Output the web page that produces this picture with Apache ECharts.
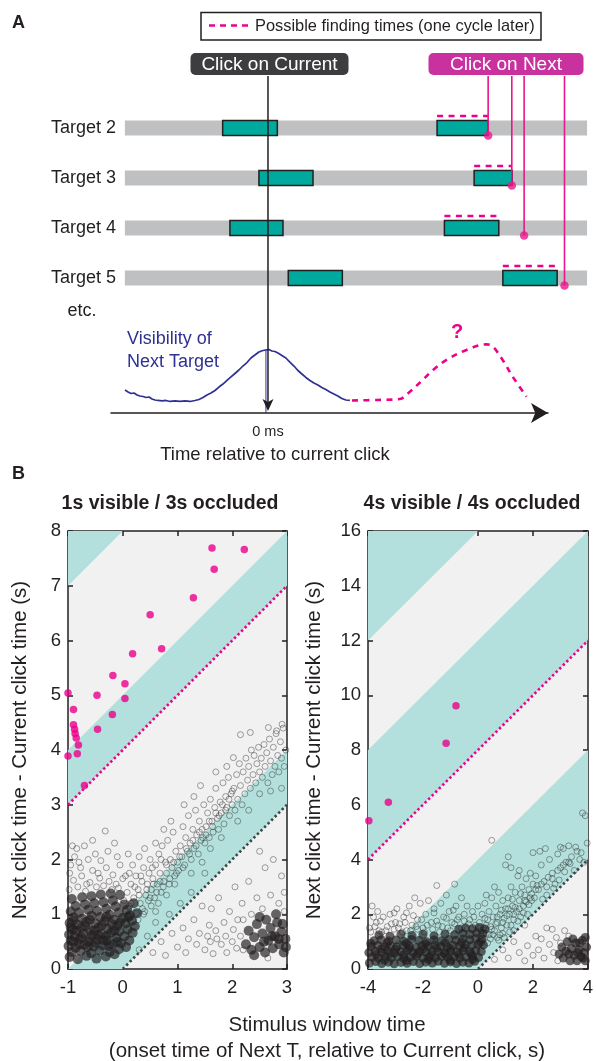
<!DOCTYPE html>
<html>
<head>
<meta charset="utf-8">
<title>Visibility of the next target and click timing</title>
<script src="https://cdn.jsdelivr.net/npm/echarts@6/dist/echarts.min.js"></script>
<style>
  html, body { margin: 0; padding: 0; background: #ffffff; }
  #chart { width: 596px; height: 1061px; }
</style>
</head>
<body>
<div id="chart"></div>
<script>
// ---------------- Panel A: one search cycle (time in ms, 0 = current click) ----------------
const targetRows = [2, 3, 4, 5];
const trackExtent = [-1440, 3210];
const windowsNow = [[-456, 94], [-91, 453], [-383, 151], [204, 748]];
const windowsNext = [[1701, 2215], [2074, 2456], [1775, 2322], [2363, 2909]];
const nextClickTimes = [2215, 2453, 2577, 2983];

const visibilityTime = [-1439, -1408, -1378, -1348, -1318, -1288, -1258, -1227, -1197, -1167, -1137, -1107, -1066, -1026, -986, -936, -885, -835, -785, -734, -694, -654, -614, -573, -533, -493, -453, -412, -372, -332, -292, -252, -211, -171, -131, -91, -50, -20, 10, 40, 70, 101, 141, 181, 221, 262, 302, 342, 382, 423, 463, 503, 543, 583, 624, 664, 704, 744, 785, 825];
const visibilityLevel = [0.277, 0.253, 0.235, 0.241, 0.217, 0.205, 0.199, 0.187, 0.193, 0.169, 0.157, 0.151, 0.145, 0.151, 0.139, 0.145, 0.139, 0.145, 0.139, 0.151, 0.163, 0.187, 0.217, 0.241, 0.271, 0.313, 0.349, 0.392, 0.434, 0.476, 0.518, 0.566, 0.608, 0.663, 0.699, 0.735, 0.753, 0.759, 0.765, 0.747, 0.741, 0.723, 0.693, 0.663, 0.614, 0.566, 0.512, 0.470, 0.428, 0.392, 0.361, 0.337, 0.307, 0.283, 0.253, 0.229, 0.205, 0.175, 0.157, 0.151];
const projectedTime = [846, 1100, 1328, 1429, 1560, 1663, 1798, 1999, 2200, 2264, 2364, 2465, 2603];
const projectedLevel = [0.151, 0.157, 0.169, 0.257, 0.40, 0.518, 0.639, 0.759, 0.827, 0.80, 0.639, 0.437, 0.196];

// ---------------- Panel B: next click vs stimulus window ----------------
const fastXRange = [-1, 3];
const fastYRange = [0, 8];
const slowXRange = [-4, 4];
const slowYRange = [0, 16];
// offsets (y - x) during which the next target is visible
const fastBands = [[0, 1], [4, 5], [8, 9]];
const slowBands = [[0, 4], [8, 12], [16, 20]];
const fastSameCycle = [[0, 0], [3, 3]];
const fastNextCycle = [[-1, 3], [3, 7]];
const slowSameCycle = [[0, 0], [4, 4]];
const slowNextCycle = [[-4, 4], [4, 12]];

const fastFound = [[1.63, 7.69], [2.22, 7.66], [1.67, 7.30], [1.29, 6.78], [0.50, 6.47], [0.71, 5.85], [0.18, 5.76], [-0.18, 5.36], [0.04, 5.21], [-0.47, 5.00], [0.04, 4.94], [-0.19, 4.65], [-0.46, 4.38], [-1.0, 5.04], [-0.9, 4.74], [-0.9, 4.46], [-0.88, 4.38], [-0.87, 4.30], [-0.85, 4.22], [-0.81, 4.09], [-0.83, 3.93], [-1.0, 3.89], [-0.70, 3.35]];
const slowFound = [[-0.8, 9.62], [-1.16, 8.25], [-3.26, 6.09], [-3.97, 5.42]];

const fastCore = [[-0.97,0.22],[-0.82,0.18],[-0.66,0.24],[-0.48,0.19],[-0.31,0.23],[-0.15,0.27],
[-0.93,0.31],[-0.77,0.33],[-0.58,0.29],[-0.42,0.34],[-0.24,0.31],[-0.07,0.36],[0.06,0.4],
[-0.99,0.42],[-0.86,0.39],[-0.7,0.44],[-0.53,0.41],[-0.36,0.43],[-0.19,0.45],[-0.03,0.47],[0.12,0.52],
[-0.95,0.52],[-0.79,0.55],[-0.63,0.5],[-0.46,0.54],[-0.29,0.52],[-0.12,0.57],[0.03,0.6],[0.18,0.66],
[-0.98,0.63],[-0.88,0.6],[-0.72,0.65],[-0.56,0.62],[-0.39,0.64],[-0.22,0.66],[-0.06,0.69],[0.09,0.72],[0.22,0.78],
[-0.92,0.72],[-0.76,0.75],[-0.6,0.71],[-0.44,0.76],[-0.27,0.74],[-0.1,0.79],[0.05,0.83],[0.17,0.88],
[-0.97,0.84],[-0.83,0.81],[-0.67,0.86],[-0.5,0.83],[-0.33,0.87],[-0.16,0.9],[0.0,0.93],[0.13,0.98],[0.26,1.02],
[-0.9,0.94],[-0.74,0.92],[-0.57,0.97],[-0.41,0.95],[-0.24,0.99],[-0.07,1.03],[0.08,1.08],
[-0.95,1.05],[-0.8,1.03],[-0.63,1.08],[-0.47,1.06],[-0.3,1.1],[-0.13,1.14],[0.03,1.18],[0.2,1.2],
[-0.86,1.15],[-0.69,1.18],[-0.52,1.2],[-0.35,1.22],[-0.18,1.25],
[-0.93,1.28],[-0.74,1.31],[-0.57,1.33],[-0.4,1.36],[-0.22,1.38],[-0.05,1.35],
[-0.9,0.5],[-0.75,0.58],[-0.6,0.55],[-0.45,0.62],[-0.3,0.6],[-0.15,0.7],[-0.85,0.7],[-0.68,0.78],[-0.52,0.7],[-0.38,0.8],[-0.2,0.82],[-0.95,0.76],[-0.8,0.45],[-0.64,0.4],[-0.5,0.48],[-0.35,0.52],[-0.25,0.42],[-0.1,0.5],[-0.9,0.88],[-0.6,0.9],[-0.3,0.95],[-0.05,0.85],[0.1,0.95],
[2.25,0.45],[2.3,0.7],[2.35,0.35],[2.4,0.58],[2.45,0.82],[2.5,0.4],[2.55,0.65],[2.6,0.3],[2.62,0.9],[2.66,0.52],[2.7,0.75],[2.74,0.38],[2.78,0.6],[2.82,0.85],[2.86,0.45],[2.9,0.68],[2.94,0.3],[2.97,0.55],[2.58,0.5],[2.72,0.6],[2.85,0.55],[2.92,0.82],[2.5,0.95],[2.8,1.0],[2.4,0.25],[2.98,0.4]];

const fastCloud = [[-0.98,1.45],[-0.9,1.62],[-0.82,1.5],[-0.75,1.7],[-0.68,1.42],[-0.6,1.58],[-0.55,1.8],[-0.48,1.5],[-0.42,1.66],[-0.35,1.52],[-0.3,1.85],[-0.25,1.6],[-0.18,1.72],[-0.12,1.55],[-0.05,1.9],[0.0,1.65],[-0.95,1.9],[-0.88,2.05],[-0.8,1.95],[-0.7,2.25],[-0.63,2.0],[-0.5,2.1],[-0.4,1.98],[-0.27,2.15],[-0.15,2.3],[-0.92,2.25],[-0.84,2.2],[-0.55,2.35],[-0.32,2.52],[-0.1,2.05],[-0.97,1.75],[-0.77,1.85],[-0.66,1.55],[-0.45,1.75],[-0.2,1.45],[-0.08,1.48],
[0.02,1.25],[0.08,1.4],[0.12,1.15],[0.15,1.55],[0.2,1.3],[0.24,1.7],[0.28,1.45],[0.32,1.2],[0.35,1.6],[0.38,1.85],[0.42,1.35],[0.45,1.55],[0.48,1.75],[0.5,2.0],[0.05,1.7],[0.18,1.9],[0.3,2.05],[0.4,2.2],[0.1,2.1],[0.25,1.02],[0.4,1.05],[0.47,1.25],
[0.05,1.05],[0.15,1.2],[0.22,1.5],[0.3,1.35],[0.36,1.1],[0.44,1.45],[0.5,1.3],[0.56,1.55],[0.62,1.4],[0.68,1.6],[0.74,1.5],[0.8,1.9],[0.86,1.65],[0.93,1.95],[0.98,1.75],[1.04,2.05],[1.1,1.85],[1.16,2.2],[1.22,2.1],[1.28,2.35],[1.34,2.25],[1.4,2.5],[1.46,2.4],[1.52,2.45],[1.58,2.7],[1.64,2.6],[1.7,2.85],[1.76,2.8],[1.82,3.0],[1.88,2.9],[1.94,3.1],[2.0,3.25],[0.12,1.75],[0.33,1.7],[0.54,1.85],[0.7,2.0],[0.28,0.9],[0.38,1.0],[0.52,1.15],[0.6,1.05],
[0.52,1.45],[0.55,1.65],[0.58,1.3],[0.6,1.9],[0.63,1.55],[0.66,2.1],[0.68,1.75],[0.7,1.4],[0.72,2.25],[0.75,1.6],[0.78,1.95],[0.8,1.75],[0.82,2.35],[0.85,1.55],[0.87,2.0],[0.9,1.85],[0.92,2.5],[0.95,1.7],[0.97,2.15],[1.0,1.95],[0.6,2.3],[0.75,2.55],[0.88,2.7],[0.65,1.2],[0.8,1.35],
[1.02,1.8],[1.05,2.25],[1.08,2.05],[1.1,2.6],[1.13,1.9],[1.15,2.4],[1.18,2.15],[1.2,2.8],[1.23,2.3],[1.25,2.0],[1.28,2.55],[1.3,2.2],[1.33,2.9],[1.35,2.45],[1.38,2.1],[1.4,2.7],[1.43,2.35],[1.45,2.55],[1.48,3.0],[1.5,2.3],[1.12,3.0],[1.3,3.15],[1.42,3.35],[1.25,1.75],[1.45,1.95],
[1.52,2.6],[1.55,2.85],[1.58,2.4],[1.6,3.1],[1.63,2.7],[1.65,2.5],[1.68,2.95],[1.7,3.3],[1.73,2.75],[1.75,2.55],[1.78,3.05],[1.8,2.85],[1.83,3.4],[1.85,2.65],[1.88,3.15],[1.9,2.95],[1.93,3.5],[1.95,2.8],[1.98,3.2],[2.0,3.0],[1.6,2.2],[1.8,2.4],[1.7,3.6],[1.9,3.7],
[2.03,3.3],[2.05,2.9],[2.08,3.55],[2.1,3.1],[2.13,3.75],[2.15,3.35],[2.18,3.0],[2.2,3.6],[2.23,3.2],[2.25,3.85],[2.28,3.45],[2.3,3.7],[2.33,3.3],[2.35,4.0],[2.38,3.55],[2.4,3.9],[2.43,3.4],[2.45,3.75],[2.48,4.05],[2.5,3.6],[2.1,2.7],[2.3,2.9],[2.15,4.28],[2.33,4.32],[2.02,3.86],
[2.53,3.85],[2.55,3.5],[2.58,4.1],[2.6,3.7],[2.63,3.95],[2.65,3.4],[2.68,4.2],[2.7,3.8],[2.73,3.55],[2.75,4.05],[2.78,3.7],[2.8,4.3],[2.83,3.9],[2.85,3.6],[2.88,4.15],[2.9,3.85],[2.93,4.4],[2.95,3.7],[2.98,4.0],[2.66,4.41],[2.81,4.35],[2.91,4.47],[2.9,3.3],[2.7,3.25],[2.5,3.2],
[0.3,0.35],[0.45,0.6],[0.55,0.3],[0.6,0.85],[0.7,0.5],[0.78,0.25],[0.85,1.0],[0.9,0.65],[1.0,0.4],[1.05,1.2],[1.1,0.75],[1.15,0.3],[1.2,0.55],[1.25,1.4],[1.3,0.9],[1.35,0.45],[1.4,0.65],[1.45,1.15],[1.5,0.35],[1.55,0.6],[1.58,0.8],[1.6,0.5],[1.62,1.1],[1.65,0.28],[1.7,0.7],[1.72,0.55],[1.75,1.3],[1.8,0.45],[1.85,0.85],[1.88,0.6],[1.9,0.3],[1.95,1.05],[2.0,0.5],[2.02,0.72],[2.05,1.5],[2.08,0.38],[2.1,0.9],[2.15,0.6],[2.18,1.2],[0.95,1.55],[1.5,1.75],[2.3,1.6],[2.5,2.15],[2.6,1.85],[2.75,2.0],[2.9,1.7],[2.95,1.4],[2.85,1.2],[2.7,1.35],[2.45,1.3],[2.2,0.35],[2.35,1.0],[2.55,1.1],[2.65,0.2],[2.95,1.05],[2.2,0.9]];

const slowCore = [[-3.95,0.22],[-3.72,0.27],[-3.5,0.2],[-3.26,0.25],[-3.05,0.19],[-2.8,0.24],[-2.58,0.21],[-2.35,0.27],[-2.12,0.2],[-1.9,0.25],[-1.66,0.22],[-1.45,0.28],[-1.22,0.21],[-1.0,0.26],[-0.78,0.2],[-0.55,0.25],[-0.33,0.22],[-0.12,0.28],
[-3.85,0.44],[-3.62,0.4],[-3.38,0.46],[-3.15,0.41],[-2.92,0.45],[-2.7,0.39],[-2.46,0.43],[-2.24,0.47],[-2.0,0.4],[-1.78,0.44],[-1.55,0.41],[-1.33,0.46],[-1.1,0.42],[-0.88,0.45],[-0.66,0.4],[-0.43,0.44],[-0.2,0.47],[0.02,0.42],
[-3.97,0.6],[-3.74,0.65],[-3.5,0.61],[-3.28,0.66],[-3.04,0.59],[-2.82,0.63],[-2.58,0.67],[-2.36,0.6],[-2.12,0.64],[-1.9,0.61],[-1.67,0.66],[-1.44,0.62],[-1.22,0.6],[-0.99,0.65],[-0.76,0.62],[-0.54,0.67],[-0.3,0.63],[-0.08,0.68],[0.12,0.64],
[-3.88,0.82],[-3.64,0.86],[-3.4,0.8],[-3.18,0.85],[-2.95,0.81],[-2.72,0.87],[-2.5,0.83],[-2.26,0.79],[-2.04,0.85],[-1.8,0.82],[-1.58,0.88],[-1.35,0.83],[-1.12,0.8],[-0.9,0.86],[-0.68,0.84],[-0.45,0.89],[-0.22,0.86],[0.0,0.9],[0.2,0.88],
[-3.78,1.03],[-3.52,1.07],[-3.25,1.02],[-2.98,1.06],[-2.7,1.01],[-2.42,1.08],[-2.15,1.04],[-1.88,1.0],[-1.6,1.06],[-1.33,1.03],[-1.06,1.08],[-0.8,1.05],[-0.55,1.1],[-0.3,1.07],[-0.08,1.12],[0.15,1.1],
[-3.6,1.24],[-3.2,1.2],[-2.8,1.27],[-2.4,1.22],[-2.0,1.26],[-1.6,1.21],[-1.2,1.28],[-0.85,1.25],[-0.55,1.3],[-0.3,1.27],[-0.05,1.32],[0.18,1.3],
[-0.7,1.45],[-0.45,1.5],[-0.2,1.47],[0.05,1.52],[0.25,1.46],
[-3.7,0.53],[-3.2,0.56],[-2.7,0.52],[-2.2,0.55],[-1.7,0.51],[-1.2,0.54],[-0.7,0.53],[-0.25,0.56],[-3.5,0.74],[-3.0,0.72],[-2.5,0.75],[-2.0,0.73],[-1.5,0.76],[-1.0,0.74],[-0.5,0.77],[-3.4,0.33],[-2.6,0.31],[-1.8,0.34],[-1.0,0.32],[-0.2,0.35],[-3.9,0.93],[-3.3,0.95],[-2.6,0.94],[-1.9,0.92],[-1.2,0.95],[-0.6,0.97],[0.08,0.98],
[2.95,0.55],[3.05,0.8],[3.1,0.4],[3.2,0.65],[3.25,1.0],[3.35,0.3],[3.4,0.75],[3.5,0.5],[3.55,0.95],[3.6,0.3],[3.68,0.7],[3.75,0.45],[3.8,1.05],[3.85,0.6],[3.9,0.3],[3.95,0.8],[3.45,1.1],[3.7,0.95],[3.3,0.55],[3.9,1.15],[3.62,0.6],[3.82,0.4]];

const slowCloud = [[-3.95,1.5],[-3.85,2.3],[-3.7,1.7],[-3.6,1.4],[-3.45,1.9],[-3.3,1.55],[-3.2,2.0],[-3.05,1.45],[-2.95,2.2],[-2.85,1.65],[-2.7,1.9],[-2.6,1.4],[-2.5,2.3],[-2.4,1.6],[-2.3,2.6],[-2.2,1.8],[-2.1,2.4],[-2.0,1.5],[-1.9,2.0],[-1.8,2.5],[-1.7,1.7],[-1.6,2.2],[-1.5,3.05],[-1.45,1.6],[-1.35,2.4],[-1.25,1.9],[-1.15,2.7],[-1.05,2.1],[-0.95,1.7],[-0.85,3.1],[-0.8,2.3],[-0.7,1.9],[-0.6,2.6],[-0.5,2.0],[-0.4,2.3],[-3.5,1.35],[-3.0,1.7],[-2.75,1.35],[-2.2,1.45],[-1.95,1.35],[-1.4,1.35],[-3.8,1.9],[-2.6,2.05],[-1.1,1.5],[-0.3,1.8],
[-3.9,1.35],[-3.75,1.55],[-3.55,1.75],[-3.35,1.4],[-3.15,1.65],[-2.9,1.5],[-2.65,1.7],[-2.45,1.4],[-2.25,1.55],[-2.05,1.8],[-1.85,1.6],[-1.65,1.45],[-1.5,1.75],[-1.3,1.55],[-1.15,1.85],[-1.0,1.4],[-0.85,1.65],[-0.6,1.5],[-0.35,1.65],[-0.15,1.9],[-3.65,2.1],[-3.05,2.05],[-2.35,1.95],[-1.6,2.05],[-0.9,2.15],
[-0.1,1.6],[0.1,1.4],[0.3,1.6],[0.5,1.45],[0.7,1.9],[0.9,1.7],[1.1,2.2],[1.3,2.0],[1.5,2.2],[1.7,2.5],[1.9,2.6],[2.1,2.9],[2.3,3.1],[2.5,3.0],[2.7,3.3],[2.9,3.6],[3.1,3.8],[3.3,3.9],[0.4,1.25],[0.8,1.25],[-0.2,2.1],[0.0,2.3],[-0.5,1.75],[-0.75,1.8],
[0.05,1.7],[0.1,1.2],[0.15,2.0],[0.2,1.5],[0.25,2.4],[0.3,1.3],[0.35,1.8],[0.4,2.1],[0.45,1.55],[0.5,2.6],[0.55,1.9],[0.6,1.4],[0.65,2.3],[0.7,1.7],[0.75,2.8],[0.8,2.0],[0.85,1.5],[0.9,2.5],[0.95,1.85],[1.0,2.2],[0.3,2.7],[0.6,3.0],[0.5,4.7],[0.45,1.1],[0.7,1.15],[0.9,1.3],
[1.05,1.6],[1.1,2.6],[1.15,2.0],[1.2,3.0],[1.25,2.3],[1.3,1.8],[1.35,2.8],[1.4,2.1],[1.45,3.4],[1.5,2.5],[1.55,1.9],[1.6,3.0],[1.65,2.3],[1.7,2.7],[1.75,3.3],[1.8,2.0],[1.85,2.9],[1.9,3.5],[1.95,2.5],[2.0,3.1],[1.1,4.1],[1.2,3.7],[1.5,3.6],[1.0,3.8],[1.3,1.4],[1.7,1.6],
[2.05,2.6],[2.1,3.4],[2.2,2.9],[2.3,3.8],[2.4,3.2],[2.5,2.7],[2.6,4.0],[2.7,3.5],[2.8,3.1],[2.9,4.2],[3.0,3.7],[3.1,4.4],[3.2,3.9],[3.3,4.5],[3.4,4.1],[3.5,3.6],[3.6,4.3],[3.7,4.0],[2.25,4.3],[2.45,4.4],[2.0,4.25],[3.8,5.7],[3.9,5.6],[3.97,4.6],[3.0,4.45],
[0.15,1.05],[0.35,0.95],[0.55,1.25],[0.75,1.05],[0.95,1.15],[1.15,1.35],[0.25,1.85],[0.65,1.65],[0.85,2.15],[1.05,1.95],[1.25,2.55],[1.45,1.75],[1.65,2.05],[1.85,2.35],[1.35,2.25],[1.55,2.75],[1.75,2.45],[1.95,2.75],[2.15,3.05],[2.35,2.55],[2.55,3.35],[2.75,2.95],[2.95,3.25],[3.15,3.55],[3.35,3.85],[3.55,4.45],[3.75,4.25],[3.85,3.9],
[0.6,0.35],[0.9,0.7],[1.1,0.4],[1.3,1.0],[1.5,0.6],[1.7,0.3],[1.8,0.85],[2.0,0.5],[2.1,1.2],[2.2,0.7],[2.4,0.4],[2.5,1.5],[2.6,0.9],[2.7,1.45],[2.75,0.6],[2.85,1.15],[2.9,0.3],[3.0,0.95],[1.2,1.6],[2.3,1.1],[3.15,1.4],[3.3,1.2]];

// ---------------- styling ----------------
const FF = '"Liberation Sans", Arial, Helvetica, sans-serif';
const INK = '#231f20';
const MAGENTA = '#ec008c';
const LINK = '#e8178a';
const NAVY = '#2e3192';
const TEAL_BAND = '#b3e0dc';
const PLOT_BG = '#f1f1f1';
const A_Y_MIN = 0.96, A_Y_MAX = 7.7;
const BAR_H = 0.3;

function barRenderer(fill, stroke) {
  return function (params, api) {
    const row = api.value(0);
    const p0 = api.coord([api.value(1), row]);
    const p1 = api.coord([api.value(2), row]);
    const h = api.size([0, BAR_H])[1];
    return {
      type: 'rect',
      shape: { x: p0[0], y: p0[1] - h / 2, width: p1[0] - p0[0], height: h },
      style: { fill: fill, stroke: stroke || null, lineWidth: stroke ? 1.5 : 0 }
    };
  };
}

function bandSeries(xi, yi, bands, xr) {
  return {
    type: 'custom', xAxisIndex: xi, yAxisIndex: yi, clip: true, silent: true, z: 1,
    data: bands,
    renderItem: function (params, api) {
      const lo = api.value(0), hi = api.value(1);
      const pts = [[xr[0], xr[0] + lo], [xr[1], xr[1] + lo], [xr[1], xr[1] + hi], [xr[0], xr[0] + hi]]
        .map(p => api.coord(p));
      return { type: 'polygon', shape: { points: pts }, style: { fill: TEAL_BAND } };
    }
  };
}

function dottedLine(xi, yi, data, color) {
  return {
    type: 'line', xAxisIndex: xi, yAxisIndex: yi, data: data, showSymbol: false, silent: true, z: 6,
    lineStyle: { color: color, width: 2.6, type: [2.4, 2.6] }
  };
}

function cloudSeries(xi, yi, data) {
  return {
    type: 'scatter', xAxisIndex: xi, yAxisIndex: yi, data: data, symbol: 'circle', symbolSize: 6, silent: true, z: 3,
    itemStyle: { color: 'rgba(0,0,0,0)', borderColor: 'rgba(35,31,32,0.62)', borderWidth: 0.85 }
  };
}

function coreSeries(xi, yi, data, size) {
  return {
    type: 'scatter', xAxisIndex: xi, yAxisIndex: yi, data: data, symbol: 'circle', symbolSize: size, silent: true, z: 4,
    itemStyle: { color: 'rgba(35,31,32,0.85)', borderWidth: 0 }
  };
}

function foundSeries(xi, yi, data) {
  return {
    type: 'scatter', xAxisIndex: xi, yAxisIndex: yi, data: data, symbol: 'circle', symbolSize: 7.5, silent: true, z: 8,
    itemStyle: { color: MAGENTA }
  };
}

const boxAxisLine = { show: true, onZero: false, lineStyle: { color: INK, width: 1.5 } };
const boxTick = { show: true, inside: true, length: 5, lineStyle: { color: INK, width: 1.5 } };
const tickFont = { color: INK, fontFamily: FF, fontSize: 18.5 };

function plotXAxes(grid, range, step) {
  return [
    { type: 'value', gridIndex: grid, position: 'bottom', min: range[0], max: range[1], interval: step,
      axisLine: boxAxisLine, axisTick: boxTick, splitLine: { show: false },
      axisLabel: Object.assign({ margin: 9 }, tickFont) },
    { type: 'value', gridIndex: grid, position: 'top', min: range[0], max: range[1], interval: step,
      axisLine: boxAxisLine, axisTick: boxTick, splitLine: { show: false }, axisLabel: { show: false } }
  ];
}

function plotYAxes(grid, range, step, gap) {
  return [
    { type: 'value', gridIndex: grid, position: 'left', min: range[0], max: range[1], interval: step,
      axisLine: boxAxisLine, axisTick: boxTick, splitLine: { show: false },
      axisLabel: Object.assign({ margin: 7 }, tickFont),
      name: 'Next click time - Current click time (s)', nameLocation: 'middle', nameGap: gap,
      nameMoveOverlap: false,
      nameTextStyle: { color: INK, fontFamily: FF, fontSize: 20.5 } },
    { type: 'value', gridIndex: grid, position: 'right', min: range[0], max: range[1], interval: step,
      axisLine: boxAxisLine, axisTick: boxTick, splitLine: { show: false }, axisLabel: { show: false } }
  ];
}

const rowsWith = spans => targetRows.map((r, i) => [r, spans[i][0], spans[i][1]]);
const peakIdx = visibilityLevel.indexOf(Math.max.apply(null, visibilityLevel));

function txt(x, y, text, size, opts) {
  opts = opts || {};
  return {
    type: 'text', x: x, y: y, silent: true, z: 20,
    style: {
      text: text, fill: opts.fill || INK,
      font: (opts.bold ? 'bold ' : '') + size + 'px ' + FF,
      textAlign: opts.align || 'center', textVerticalAlign: 'middle'
    }
  };
}

const option = {
  animation: false,
  backgroundColor: '#ffffff',
  grid: [
    { left: 100, top: 76, width: 496, height: 337, outerBoundsMode: 'none', containLabel: false },
    { left: 111, top: 330, width: 437, height: 83, outerBoundsMode: 'none', containLabel: false },
    { left: 68, top: 531, width: 219, height: 438, show: true, backgroundColor: PLOT_BG, borderWidth: 0, outerBoundsMode: 'none', containLabel: false },
    { left: 368, top: 531, width: 220, height: 438, show: true, backgroundColor: PLOT_BG, borderWidth: 0, outerBoundsMode: 'none', containLabel: false }
  ],
  xAxis: [
    { type: 'value', gridIndex: 0, min: -1690, max: 3300, show: false },
    { type: 'value', gridIndex: 1, min: -1580, max: 2820, interval: 1580, position: 'bottom',
      axisLine: { show: true, onZero: false, symbol: ['none', 'arrow'], symbolSize: [15, 17], lineStyle: { color: INK, width: 1.5 } },
      axisTick: { show: false }, splitLine: { show: false },
      axisLabel: { margin: 11, color: INK, fontFamily: FF, fontSize: 14.5, showMinLabel: false, showMaxLabel: false,
        formatter: v => (v === 0 ? '0 ms' : '') } }
  ].concat(plotXAxes(2, fastXRange, 1), plotXAxes(3, slowXRange, 2)),
  yAxis: [
    { type: 'value', gridIndex: 0, inverse: true, min: A_Y_MIN, max: A_Y_MAX,
      axisLine: { show: false }, axisTick: { show: false }, splitLine: { show: false },
      axisLabel: { customValues: targetRows, margin: -16, color: INK, fontFamily: FF, fontSize: 18,
        formatter: v => 'Target ' + v } },
    { type: 'value', gridIndex: 1, min: 0, max: 1, show: false }
  ].concat(plotYAxes(2, fastYRange, 1, 37), plotYAxes(3, slowYRange, 2, 43)),
  series: [
    // gray tracks for each target
    { type: 'custom', xAxisIndex: 0, yAxisIndex: 0, silent: true, z: 2, encode: { x: [1, 2], y: 0 },
      data: targetRows.map(r => [r, trackExtent[0], trackExtent[1]]), renderItem: barRenderer('#bfc0c2') },
    // visible windows: current cycle and one cycle later
    { type: 'custom', xAxisIndex: 0, yAxisIndex: 0, silent: true, z: 3, encode: { x: [1, 2], y: 0 },
      data: rowsWith(windowsNow).concat(rowsWith(windowsNext)), renderItem: barRenderer('#00a99d', INK) },
    // possible finding times (dashed, above the later window)
    { type: 'custom', xAxisIndex: 0, yAxisIndex: 0, silent: true, z: 4, encode: { x: [1, 2], y: 0 },
      data: rowsWith(windowsNext),
      renderItem: function (params, api) {
        const y = api.value(0) - 0.24;
        const p0 = api.coord([api.value(1), y]), p1 = api.coord([api.value(2), y]);
        return { type: 'line', shape: { x1: p0[0], y1: p0[1], x2: p1[0], y2: p1[1] },
          style: { stroke: MAGENTA, lineWidth: 2.6, lineDash: [6, 5.5] } };
      } },
    // links from each next click up to its label
    { type: 'custom', xAxisIndex: 0, yAxisIndex: 0, silent: true, z: 5, encode: { x: 1, y: 0 },
      data: targetRows.map((r, i) => [r, nextClickTimes[i]]),
      renderItem: function (params, api) {
        const top = api.coord([api.value(1), A_Y_MIN]);
        const dot = api.coord([api.value(1), api.value(0) + 0.15]);
        return { type: 'line', shape: { x1: top[0], y1: top[1], x2: dot[0], y2: dot[1] },
          style: { stroke: LINK, lineWidth: 1.6 } };
      } },
    { type: 'scatter', xAxisIndex: 0, yAxisIndex: 0, silent: true, z: 6, symbolSize: 8.5,
      itemStyle: { color: LINK },
      data: targetRows.map((r, i) => [nextClickTimes[i], r + 0.15]) },
    // current click line with arrow down to the time axis
    { type: 'custom', xAxisIndex: 0, yAxisIndex: 0, silent: true, z: 7, data: [[0]], encode: { x: 0 },
      renderItem: function (params, api) {
        const top = api.coord([api.value(0), A_Y_MIN]);
        const bot = api.coord([api.value(0), A_Y_MAX]);
        const x = top[0], tip = bot[1] - 2;
        return { type: 'group', children: [
          { type: 'line', shape: { x1: x, y1: top[1], x2: x, y2: tip - 8 }, style: { stroke: INK, lineWidth: 1.5 } },
          { type: 'polygon', shape: { points: [[x, tip], [x - 5.5, tip - 12], [x, tip - 9], [x + 5.5, tip - 12]] },
            style: { fill: INK } }
        ] };
      } },
    // visibility of the next target around the current click
    { type: 'line', xAxisIndex: 1, yAxisIndex: 1, silent: true, showSymbol: false, z: 5,
      data: visibilityTime.map((t, i) => [t, visibilityLevel[i]]),
      lineStyle: { color: NAVY, width: 1.7 } },
    { type: 'line', xAxisIndex: 1, yAxisIndex: 1, silent: true, showSymbol: false, z: 4,
      data: [[visibilityTime[peakIdx] - 30, 0], [visibilityTime[peakIdx] - 30, visibilityLevel[peakIdx]]],
      lineStyle: { color: NAVY, width: 1 } },
    { type: 'line', xAxisIndex: 1, yAxisIndex: 1, silent: true, showSymbol: false, smooth: 0.35, z: 5,
      data: projectedTime.map((t, i) => [t, projectedLevel[i]]),
      lineStyle: { color: MAGENTA, width: 2.6, type: [6, 5.5] } },

    // ---- 1 s visible / 3 s occluded ----
    bandSeries(2, 2, fastBands, fastXRange),
    cloudSeries(2, 2, fastCloud),
    coreSeries(2, 2, fastCore, 10),
    dottedLine(2, 2, fastSameCycle, '#3d4547'),
    dottedLine(2, 2, fastNextCycle, MAGENTA),
    foundSeries(2, 2, fastFound),

    // ---- 4 s visible / 4 s occluded ----
    bandSeries(4, 4, slowBands, slowXRange),
    cloudSeries(4, 4, slowCloud),
    coreSeries(4, 4, slowCore, 9),
    dottedLine(4, 4, slowSameCycle, '#3d4547'),
    dottedLine(4, 4, slowNextCycle, MAGENTA),
    foundSeries(4, 4, slowFound)
  ],
  graphic: [
    txt(12, 23, 'A', 18, { bold: true, align: 'left' }),
    { type: 'rect', silent: true, z: 19, shape: { x: 201, y: 12.5, width: 340, height: 27.5 },
      style: { fill: '#ffffff', stroke: INK, lineWidth: 1.5 } },
    { type: 'line', silent: true, z: 20, shape: { x1: 209, y1: 25.5, x2: 251, y2: 25.5 },
      style: { stroke: MAGENTA, lineWidth: 2.6, lineDash: [6, 5] } },
    txt(255, 26, 'Possible finding times (one cycle later)', 16.4, { align: 'left' }),
    { type: 'rect', silent: true, z: 19, shape: { x: 190.5, y: 53, width: 158, height: 22, r: 5 },
      style: { fill: '#3d3d3f' } },
    txt(269.5, 64.5, 'Click on Current', 19, { fill: '#ffffff' }),
    { type: 'rect', silent: true, z: 19, shape: { x: 428.5, y: 53, width: 155, height: 22, r: 5 },
      style: { fill: '#c8319e' } },
    txt(506, 64.5, 'Click on Next', 19, { fill: '#ffffff' }),
    txt(82, 311, 'etc.', 18),
    txt(127, 339, 'Visibility of', 18, { fill: NAVY, align: 'left' }),
    txt(127, 362, 'Next Target', 18, { fill: NAVY, align: 'left' }),
    txt(457, 332, '?', 20, { fill: MAGENTA, bold: true }),
    txt(275, 455, 'Time relative to current click', 18.5),
    txt(12, 474, 'B', 18, { bold: true, align: 'left' }),
    txt(170, 504, '1s visible / 3s occluded', 19.5, { bold: true }),
    txt(472, 504, '4s visible / 4s occluded', 19.5, { bold: true }),
    txt(327, 1025, 'Stimulus window time', 20.5),
    txt(327, 1051, '(onset time of Next T, relative to Current click, s)', 20.5)
  ]
};

const chart = echarts.init(document.getElementById('chart'), null, { renderer: 'canvas', width: 596, height: 1061 });
chart.setOption(option);
</script>
</body>
</html>
